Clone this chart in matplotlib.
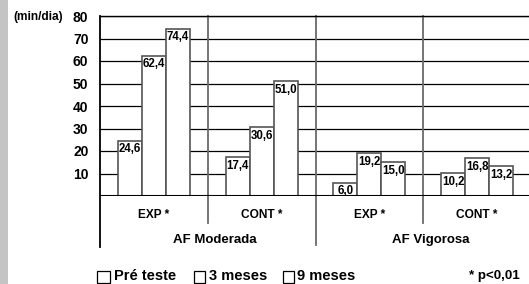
import matplotlib
matplotlib.use("Agg")
import matplotlib.pyplot as plt
from matplotlib.patches import Rectangle
from matplotlib.lines import Line2D

plt.rcParams['font.family'] = ['Liberation Sans', 'DejaVu Sans']

# ---- data ----
groups = ['EXP *', 'CONT *', 'EXP *', 'CONT *']
sections = ['AF Moderada', 'AF Vigorosa']
series = ['Pré teste', '3 meses', '9 meses']
pre_teste = [24.6, 17.4, 6.0, 10.2]
tres_meses = [62.4, 30.6, 19.2, 16.8]
nove_meses = [74.4, 51.0, 15.0, 13.2]
y_ticks = [10, 20, 30, 40, 50, 60, 70, 80]
y_unit = '(min/dia)'
note = '* p<0,01'

W, H = 529, 284
fig = plt.figure(figsize=(W / 100, H / 100), dpi=100)

# textured strip at left edge (decoration)
fig.patches.append(Rectangle((0, 0), 8 / W, 1, transform=fig.transFigure,
                             facecolor='#c4c4c4', edgecolor='none', zorder=0))

ax_left, ax_bottom = 100 / W, 88 / H
ax = fig.add_axes([ax_left, ax_bottom, 431 / W, 180 / H])
ax.set_xlim(-0.5, 3.5)
ax.set_ylim(0, 80)

bw = 0.223
offsets = [-bw, 0, bw]
all_series = [pre_teste, tres_meses, nove_meses]
for s_vals, off in zip(all_series, offsets):
    xs = [i + off for i in range(len(groups))]
    ax.bar(xs, s_vals, width=bw, color='white', edgecolor='#555555',
           linewidth=1.2, zorder=3)
    for x, v in zip(xs, s_vals):
        ax.annotate(f"{v:.1f}".replace('.', ','), (x, v), xytext=(0, -2.0),
                    textcoords='offset points', ha='center', va='top',
                    fontsize=8.3, fontweight='bold', zorder=4)

# horizontal grid
for t in y_ticks:
    ax.axhline(t, color='black', lw=0.9, zorder=1)
ax.axhline(0, color='black', lw=1.5, zorder=5)

ax.set_yticks(y_ticks)
ax.set_yticklabels([str(t) for t in y_ticks], fontsize=10, fontweight='bold')
ax.tick_params(axis='y', length=0, pad=8.3)
ax.set_xticks([])
for sp in ['right', 'bottom', 'left']:
    ax.spines[sp].set_visible(False)
ax.spines['top'].set_linewidth(1.0)

# left axis line extending below
ax.add_line(Line2D([-0.5, -0.5], [1, -0.282], transform=ax.get_xaxis_transform(),
                   color='black', lw=1.3, clip_on=False, zorder=6))
# vertical dividers
for xd, yb in [(0.5, -0.15), (1.5, -0.272), (2.5, -0.15)]:
    ax.add_line(Line2D([xd, xd], [1, yb], transform=ax.get_xaxis_transform(),
                       color='#6a6a6a', lw=1.3, clip_on=False, zorder=2))

# category labels
for i, g in enumerate(groups):
    ax.text(i, -0.106, g, transform=ax.get_xaxis_transform(), ha='center',
            va='center', fontsize=8.6, fontweight='bold')
for j, s in enumerate(sections):
    ax.text(0.5 + 2 * j + 0.07, -0.244, s, transform=ax.get_xaxis_transform(),
            ha='center', va='center', fontsize=9.5, fontweight='bold')

# unit label
fig.text(13 / W, 1 - 17 / H, y_unit, ha='left', va='center', fontsize=8.6,
         fontweight='bold')

# legend (manual)
leg_y = 276.5
box_x = [97, 194, 283]
box_w = [13, 11, 11]
text_x = [114, 209, 297]
for bx, bwid, tx, lab in zip(box_x, box_w, text_x, series):
    fig.patches.append(Rectangle((bx / W, 1 - (leg_y + 6) / H), bwid / W, 12 / H,
                                 transform=fig.transFigure, facecolor='white',
                                 edgecolor='black', lw=0.9))
    fig.text(tx / W, 1 - leg_y / H, lab, ha='left', va='center', fontsize=10.5,
             fontweight='bold')
fig.text(520 / W, 1 - leg_y / H, note, ha='right', va='center', fontsize=9.6,
         fontweight='bold')

fig.savefig('out.png', dpi=100)
